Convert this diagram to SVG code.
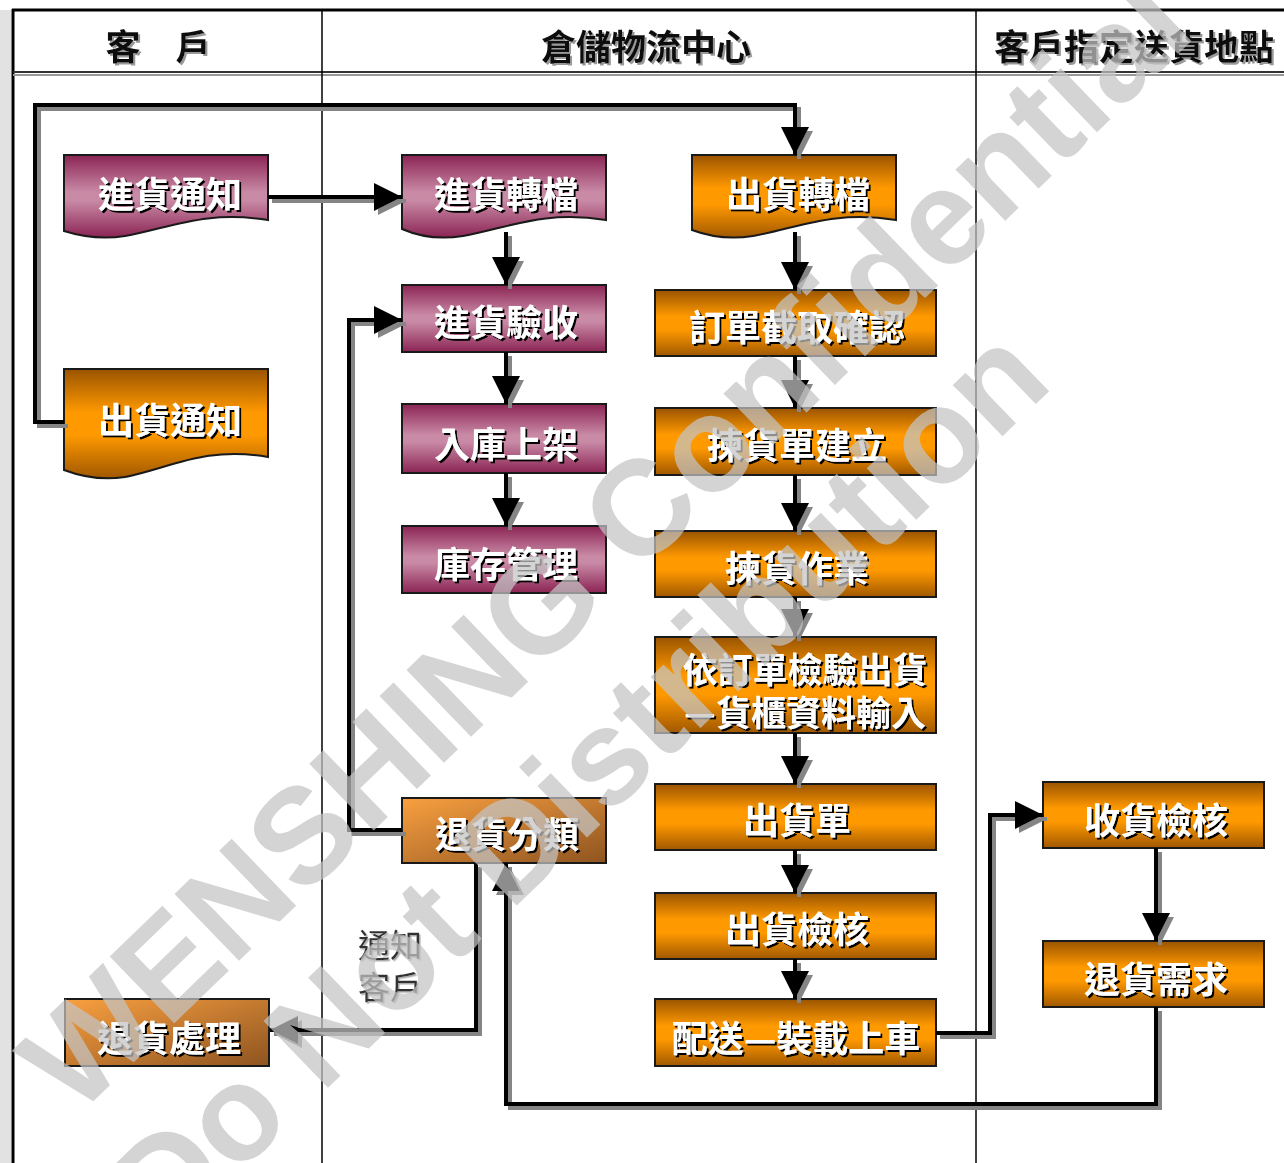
<svg xmlns="http://www.w3.org/2000/svg" width="1284" height="1163" viewBox="0 0 1284 1163">
<defs>
<style>
.frame{stroke:#000;fill:none}
.hdr{font-family:"Noto Sans CJK TC","Noto Sans CJK SC",sans-serif;font-weight:bold;font-size:35px;fill:#111;text-anchor:middle;dominant-baseline:central;filter:url(#hs)}
.nt{font-family:"Noto Sans CJK TC","Noto Sans CJK SC",sans-serif;font-weight:bold;font-size:36px;fill:#fff;text-anchor:middle;dominant-baseline:central;filter:url(#ts)}
.nt2{font-size:35px}
.box{stroke:#1a1a1a;stroke-width:2}
.pur{fill:url(#gPur)}
.org{fill:url(#gOrg)}
.brn{fill:url(#gBrn)}
.cn{fill:none;stroke:#000;stroke-width:4;marker-end:url(#ah)}
.lbl{font-family:"Noto Sans CJK TC","Noto Sans CJK SC",sans-serif;font-size:32px;fill:#333;filter:url(#ls)}
.wm{font-family:"Liberation Sans",Arial,sans-serif;font-weight:bold;font-size:135px;fill:#c4c4c4;opacity:0.72}
</style>
<linearGradient id="gPur" x1="0" y1="0" x2="0" y2="1">
<stop offset="0" stop-color="#8B2454"/><stop offset="0.45" stop-color="#C98AA6"/><stop offset="0.55" stop-color="#C98AA6"/><stop offset="1" stop-color="#8B2454"/>
</linearGradient>
<linearGradient id="gOrg" x1="0" y1="0" x2="0" y2="1">
<stop offset="0" stop-color="#9A5400"/><stop offset="0.4" stop-color="#FF9900"/><stop offset="0.6" stop-color="#FF9900"/><stop offset="1" stop-color="#A05800"/>
</linearGradient>
<linearGradient id="gBrn" x1="0" y1="0" x2="1" y2="1">
<stop offset="0" stop-color="#F9A040"/><stop offset="1" stop-color="#8E5420"/>
</linearGradient>
<marker id="ah" markerUnits="userSpaceOnUse" markerWidth="30" markerHeight="30" refX="28" refY="14" orient="auto">
<path d="M0,0 L28,14 L0,28 Z" fill="#000"/>
</marker>
<filter id="cs" filterUnits="userSpaceOnUse" x="0" y="0" width="1284" height="1163">
<feDropShadow dx="4" dy="4" stdDeviation="0.6" flood-color="#858585" flood-opacity="1"/>
</filter>
<filter id="ts" x="-10%" y="-30%" width="120%" height="160%">
<feDropShadow dx="2" dy="2" stdDeviation="0.4" flood-color="#000" flood-opacity="1"/>
</filter>
<filter id="hs" x="-10%" y="-30%" width="120%" height="160%">
<feDropShadow dx="2" dy="2" stdDeviation="0.5" flood-color="#999" flood-opacity="1"/>
</filter>
<filter id="ls" x="-10%" y="-30%" width="120%" height="160%">
<feDropShadow dx="1.5" dy="1.5" stdDeviation="0.4" flood-color="#aaa" flood-opacity="1"/>
</filter>
</defs>

<rect x="0" y="0" width="1284" height="1163" fill="#fff"/>
<rect x="0" y="10" width="11" height="1153" fill="#e2e2e2"/>

<g id="frame">
<line class="frame" x1="12" y1="10" x2="1284" y2="10" stroke-width="3"/>
<line class="frame" x1="13" y1="9" x2="13" y2="1163" stroke-width="3"/>
<line x1="13" y1="72" x2="1284" y2="72" stroke="#333" stroke-width="2"/>
<line x1="13" y1="75" x2="1284" y2="75" stroke="#999" stroke-width="2"/>
<line class="frame" x1="322" y1="10" x2="322" y2="1163" stroke-width="1.5"/>
<line class="frame" x1="976" y1="10" x2="976" y2="1163" stroke-width="1.5"/>
<text class="hdr" x="123" y="44">客</text>
<text class="hdr" x="193" y="44">戶</text>
<text class="hdr" x="646" y="44">倉儲物流中心</text>
<text class="hdr" x="1134" y="44">客戶指定送貨地點</text>
</g>

<g id="n-jinhuotongzhi">
<path class="box pur" d="M64,155 H268 V220 C205,210 170,228 125,236 C100,240 80,236 64,231 Z"/>
<text class="nt" x="170" y="192">進貨通知</text>
</g>
<g id="n-chuhuotongzhi">
<path class="box org" d="M64,369 H268 V457 C205,446 170,468 125,477 C100,481 80,476 64,470 Z"/>
<text class="nt" x="170" y="418">出貨通知</text>
</g>
<g id="n-jinhuozhuandang">
<path class="box pur" d="M402,155 H606 V220 C543,210 508,228 463,236 C438,240 418,236 402,229 Z"/>
<text class="nt" x="506" y="192">進貨轉檔</text>
</g>
<g id="n-jinhuoyanshou">
<rect class="box pur" x="402" y="285" width="204" height="67"/>
<text class="nt" x="506" y="320">進貨驗收</text>
</g>
<g id="n-rukushangjia">
<rect class="box pur" x="402" y="404" width="204" height="69"/>
<text class="nt" x="506" y="442">入庫上架</text>
</g>
<g id="n-kucunguanli">
<rect class="box pur" x="402" y="526" width="204" height="67"/>
<text class="nt" x="506" y="562">庫存管理</text>
</g>
<g id="n-tuihuofenlei">
<rect class="box brn" x="402" y="798" width="204" height="65"/>
<text class="nt" x="507" y="832">退貨分類</text>
</g>
<g id="n-tuihuochuli">
<rect class="box brn" x="65" y="999" width="204" height="67"/>
<text class="nt" x="169" y="1036">退貨處理</text>
</g>
<g id="n-chuhuozhuandang">
<path class="box org" d="M692,155 H896 V220 C833,210 798,228 753,236 C728,240 708,236 692,230 Z"/>
<text class="nt" x="798" y="192">出貨轉檔</text>
</g>
<g id="n-dingdan">
<rect class="box org" x="655" y="290" width="281" height="66"/>
<text class="nt" x="797" y="325">訂單截取確認</text>
</g>
<g id="n-jianhuodan">
<rect class="box org" x="655" y="408" width="281" height="67"/>
<text class="nt" x="797" y="443">揀貨單建立</text>
</g>
<g id="n-jianhuozuoye">
<rect class="box org" x="655" y="531" width="281" height="66"/>
<text class="nt" x="797" y="566">揀貨作業</text>
</g>
<g id="n-jianyan">
<rect class="box org" x="655" y="637" width="281" height="96"/>
<text class="nt nt2" x="805" y="667">依訂單檢驗出貨</text>
<text class="nt nt2" x="805" y="710">—貨櫃資料輸入</text>
</g>
<g id="n-chuhuodan">
<rect class="box org" x="655" y="784" width="281" height="66"/>
<text class="nt" x="797" y="818">出貨單</text>
</g>
<g id="n-chuhuojianhe">
<rect class="box org" x="655" y="893" width="281" height="66"/>
<text class="nt" x="797" y="927">出貨檢核</text>
</g>
<g id="n-peisong">
<rect class="box org" x="655" y="999" width="281" height="67"/>
<text class="nt" x="796" y="1036">配送—裝載上車</text>
</g>
<g id="n-shouhuojianhe">
<rect class="box org" x="1043" y="782" width="221" height="66"/>
<text class="nt" x="1156" y="818">收貨檢核</text>
</g>
<g id="n-tuihuoxuqiu">
<rect class="box org" x="1043" y="941" width="221" height="66"/>
<text class="nt" x="1156" y="977">退貨需求</text>
</g>

<g id="connectors" filter="url(#cs)">
<path class="cn" d="M64,422 H35 V105 H795 V155"/>
<path class="cn" d="M268,197 H402"/>
<path class="cn" d="M506,232 V285"/>
<path class="cn" d="M506,352 V404"/>
<path class="cn" d="M506,473 V526"/>
<path class="cn" d="M795,232 V290"/>
<path class="cn" d="M795,356 V408"/>
<path class="cn" d="M795,475 V531"/>
<path class="cn" d="M795,597 V637"/>
<path class="cn" d="M795,733 V784"/>
<path class="cn" d="M795,850 V893"/>
<path class="cn" d="M795,959 V999"/>
<path class="cn" d="M936,1033 H990 V815 H1043"/>
<path class="cn" d="M1156,848 V941"/>
<path class="cn" d="M1156,1007 V1104 H506 V863"/>
<path class="cn" d="M402,830 H349 V320 H402"/>
<path class="cn" d="M476,863 V1030 H270"/>
</g>

<g id="label">
<text class="lbl" x="358" y="957">通知</text>
<text class="lbl" x="358" y="999">客戶</text>
</g>

<g id="watermark">
<text class="wm" x="76" y="1118" transform="rotate(-44 76 1118)">WENSHING Confidential</text>
<text class="wm" x="165" y="1245" transform="rotate(-44 165 1245)">Do Not Distribution</text>
</g>
</svg>
